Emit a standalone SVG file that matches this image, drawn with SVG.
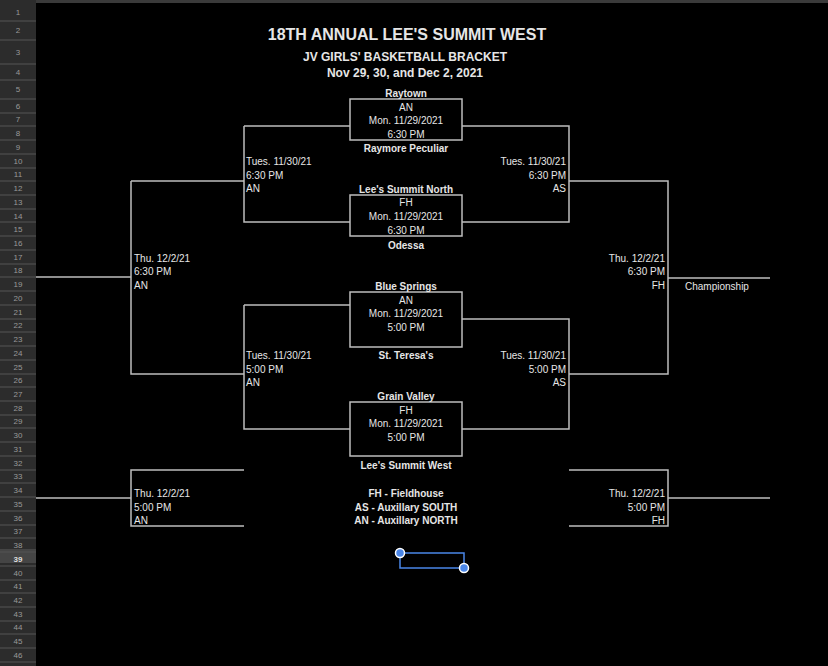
<svg xmlns="http://www.w3.org/2000/svg" width="828" height="666" viewBox="0 0 828 666">
<defs><style>
text{font-family:"Liberation Sans",Arial,sans-serif;fill:#e6e6e6;font-size:10px;dominant-baseline:central}
.b{font-weight:bold}
.c{text-anchor:middle}
.r{text-anchor:end}
.rn{fill:#999;font-size:8px;text-anchor:middle}
.ln{stroke:#bdbdbd;stroke-width:1.5;fill:none}
</style></defs>
<rect width="828" height="666" fill="#000"/>
<rect x="0" y="0" width="828" height="3" fill="#3a3a3a"/>
<g id="gutter">
<rect x="0" y="0" width="36" height="666" fill="#2c2c2c"/>
<rect x="0" y="549" width="36" height="14" fill="#454545"/>
<path d="M0 21H36M0 40H36M0 64H36M0 80H36M0 99H36M0 113H36M0 126H36M0 140H36M0 154H36M0 168H36M0 181H36M0 195H36M0 209H36M0 222H36M0 236H36M0 250H36M0 264H36M0 277H36M0 291H36M0 305H36M0 319H36M0 332H36M0 346H36M0 360H36M0 374H36M0 387H36M0 401H36M0 415H36M0 428H36M0 442H36M0 456H36M0 470H36M0 483H36M0 497H36M0 511H36M0 525H36M0 538H36M0 552H36M0 566H36M0 580H36M0 593H36M0 607H36M0 621H36M0 634H36M0 648H36M0 662H36" stroke="#555" stroke-width="1"/>
<text class="rn" x="18" y="12">1</text><text class="rn" x="18" y="30">2</text><text class="rn" x="18" y="52">3</text><text class="rn" x="18" y="72">4</text><text class="rn" x="18" y="89">5</text>
<text class="rn" x="18" y="106">6</text><text class="rn" x="18" y="119">7</text><text class="rn" x="18" y="133">8</text><text class="rn" x="18" y="147">9</text><text class="rn" x="18" y="161">10</text><text class="rn" x="18" y="174">11</text><text class="rn" x="18" y="188">12</text><text class="rn" x="18" y="202">13</text><text class="rn" x="18" y="216">14</text><text class="rn" x="18" y="229">15</text><text class="rn" x="18" y="243">16</text><text class="rn" x="18" y="257">17</text><text class="rn" x="18" y="270">18</text><text class="rn" x="18" y="284">19</text><text class="rn" x="18" y="298">20</text><text class="rn" x="18" y="312">21</text><text class="rn" x="18" y="325">22</text><text class="rn" x="18" y="339">23</text><text class="rn" x="18" y="353">24</text><text class="rn" x="18" y="367">25</text><text class="rn" x="18" y="380">26</text><text class="rn" x="18" y="394">27</text><text class="rn" x="18" y="408">28</text><text class="rn" x="18" y="421">29</text><text class="rn" x="18" y="435">30</text><text class="rn" x="18" y="449">31</text><text class="rn" x="18" y="463">32</text><text class="rn" x="18" y="476">33</text><text class="rn" x="18" y="490">34</text><text class="rn" x="18" y="504">35</text><text class="rn" x="18" y="518">36</text><text class="rn" x="18" y="531">37</text><text class="rn" x="18" y="545">38</text><text class="rn" x="18" y="559" style="fill:#ddd;font-weight:bold">39</text><text class="rn" x="18" y="573">40</text><text class="rn" x="18" y="586">41</text><text class="rn" x="18" y="600">42</text><text class="rn" x="18" y="614">43</text><text class="rn" x="18" y="627">44</text><text class="rn" x="18" y="641">45</text><text class="rn" x="18" y="655">46</text>
</g>
<g id="title">
<text class="b c" x="407" y="34" style="font-size:16px">18TH ANNUAL LEE'S SUMMIT WEST</text>
<text class="b c" x="405" y="57" style="font-size:12px">JV GIRLS' BASKETBALL BRACKET</text>
<text class="b c" x="405" y="73" style="font-size:12px">Nov 29, 30, and Dec 2,  2021</text>
</g>
<g id="connectors" class="ln">
<rect x="350" y="99" width="112" height="41"/>
<rect x="350" y="195" width="112" height="41"/>
<rect x="350" y="292" width="112" height="55"/>
<rect x="350" y="402" width="112" height="54"/>
<path d="M244 126H350M244 126V222H350M462 126H569V222H462"/>
<path d="M244 305H350M244 305V429H350M462 319H569V429H462"/>
<path d="M131 181H244M131 181V374H244M36 277H131"/>
<path d="M569 181H668V374H569M668 278H770"/>
<path d="M244 470H131V526H244M36 498H131"/>
<path d="M569 470H668V526H569M668 498H770"/>
</g>
<g id="match1"><text class="b c" x="406" y="93">Raytown</text><text class="c" x="406" y="107">AN</text><text class="c" x="406" y="120">Mon. 11/29/2021</text><text class="c" x="406" y="134">6:30 PM</text><text class="b c" x="406" y="148">Raymore Peculiar</text></g>
<g id="match2"><text class="b c" x="406" y="189">Lee's Summit North</text><text class="c" x="406" y="202">FH</text><text class="c" x="406" y="216">Mon. 11/29/2021</text><text class="c" x="406" y="230">6:30 PM</text><text class="b c" x="406" y="245">Odessa</text></g>
<g id="match3"><text class="b c" x="406" y="286">Blue Springs</text><text class="c" x="406" y="300">AN</text><text class="c" x="406" y="313">Mon. 11/29/2021</text><text class="c" x="406" y="327">5:00 PM</text><text class="b c" x="406" y="355">St. Teresa's</text></g>
<g id="match4"><text class="b c" x="406" y="396">Grain Valley</text><text class="c" x="406" y="410">FH</text><text class="c" x="406" y="423">Mon. 11/29/2021</text><text class="c" x="406" y="437">5:00 PM</text><text class="b c" x="406" y="465">Lee's Summit West</text></g>
<g id="legend"><text class="b c" x="406" y="493">FH - Fieldhouse</text><text class="b c" x="406" y="507">AS - Auxillary SOUTH</text><text class="b c" x="406" y="520">AN - Auxillary NORTH</text></g>
<g id="semi-left-top"><text x="246" y="161">Tues. 11/30/21</text><text x="246" y="175">6:30 PM</text><text x="246" y="188">AN</text></g>
<g id="semi-right-top"><text class="r" x="566" y="161">Tues. 11/30/21</text><text class="r" x="566" y="175">6:30 PM</text><text class="r" x="566" y="188">AS</text></g>
<g id="semi-left-bottom"><text x="246" y="355">Tues. 11/30/21</text><text x="246" y="369">5:00 PM</text><text x="246" y="382">AN</text></g>
<g id="semi-right-bottom"><text class="r" x="566" y="355">Tues. 11/30/21</text><text class="r" x="566" y="369">5:00 PM</text><text class="r" x="566" y="382">AS</text></g>
<g id="final-left"><text x="134" y="258">Thu. 12/2/21</text><text x="134" y="271">6:30 PM</text><text x="134" y="285">AN</text></g>
<g id="final-right"><text class="r" x="665" y="258">Thu. 12/2/21</text><text class="r" x="665" y="271">6:30 PM</text><text class="r" x="665" y="285">FH</text><text x="685" y="286">Championship</text></g>
<g id="consol-left"><text x="134" y="493">Thu. 12/2/21</text><text x="134" y="507">5:00 PM</text><text x="134" y="520">AN</text></g>
<g id="consol-right"><text class="r" x="665" y="493">Thu. 12/2/21</text><text class="r" x="665" y="507">5:00 PM</text><text class="r" x="665" y="520">FH</text></g>
<g id="selection">
<rect x="400" y="553" width="64" height="15" fill="none" stroke="#4a86e8" stroke-width="1.5"/>
<circle cx="400" cy="553" r="4.5" fill="#4a86e8" stroke="#fff" stroke-width="1.5"/>
<circle cx="464" cy="568" r="4.5" fill="#4a86e8" stroke="#fff" stroke-width="1.5"/>
</g>
</svg>
